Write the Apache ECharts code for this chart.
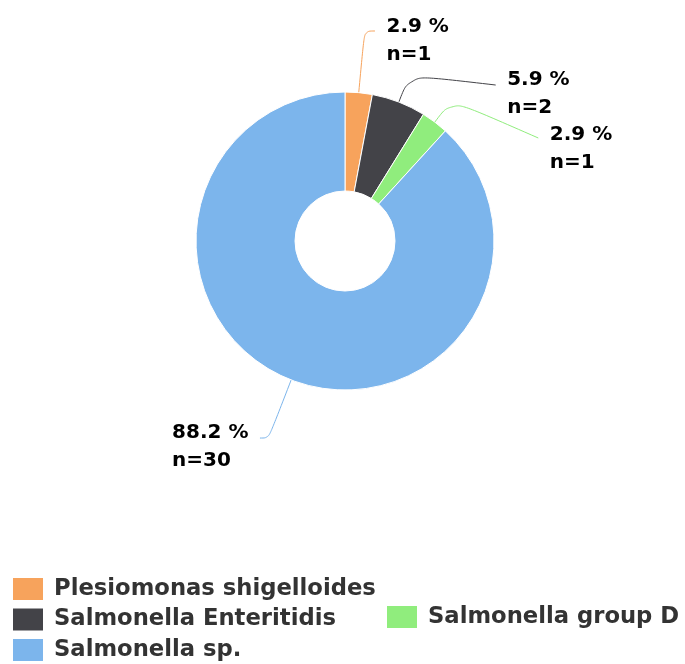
<!DOCTYPE html>
<html><head><meta charset="utf-8">
<script src="https://cdn.jsdelivr.net/npm/echarts@6/dist/echarts.min.js"></script>
<style>html,body{margin:0;padding:0;background:#fff}#c{width:685px;height:664px}</style>
</head><body><div id="c"></div>
<script>
// ---- data ----
const categories = ['Plesiomonas shigelloides', 'Salmonella Enteritidis', 'Salmonella group D', 'Salmonella sp.'];
const counts = [1, 2, 1, 30];
// ---- styles ----
const colors = ['#f7a35c', '#434348', '#90ed7d', '#7cb5ec'];
const leaderLength = [61.9, 29, 27.7, 62.3];
const leaderLength2 = [10.5, 86.4, 86.8, 8.7];
const leaderEndShift = [0, 10, 38, 0];
const labelShift = [9.5, 19, 48.5, 9];

const total = counts.reduce((a, b) => a + b, 0);
const font = "'DejaVu Sans', Verdana, sans-serif";

const pieData = categories.map((name, i) => ({
  name: name,
  value: counts[i],
  itemStyle: { color: colors[i] },
  labelLine: { length: leaderLength[i], length2: leaderLength2[i] }
}));

const legendCommon = {
  icon: 'rect',
  itemWidth: 32,
  itemHeight: 24,
  padding: 0,
  textStyle: {
    color: '#333',
    fontFamily: font,
    fontWeight: 'bold',
    fontSize: 22.7,
    padding: [0, 0, 0, 5]
  }
};

const labelFont = { color: '#000', fontFamily: font, fontWeight: 'bold', fontSize: 20, lineHeight: 28 };

const chart = echarts.init(document.getElementById('c'), null, { renderer: 'canvas' });
chart.setOption({
  animation: false,
  backgroundColor: '#fff',
  color: colors,
  legend: [
    Object.assign({}, legendCommon, {
      data: [categories[0], categories[1], categories[3]],
      orient: 'vertical', left: 11, top: 576, itemGap: 4.5
    }),
    Object.assign({}, legendCommon, {
      data: [categories[2]],
      orient: 'horizontal', left: 385, top: 604
    })
  ],
  series: [{
    type: 'pie',
    center: [345, 241],
    radius: [50, 149],
    startAngle: 90,
    clockwise: true,
    avoidLabelOverlap: false,
    itemStyle: { borderColor: '#fff', borderWidth: 1 },
    emphasis: { disabled: true },
    label: Object.assign({
      show: true,
      position: 'outside',
      alignTo: 'none',
      distanceToLabelLine: 11.5,
      textBorderWidth: 0,
      formatter: p => '{t|' + (p.value / total * 100).toFixed(1) + ' %}\n{t|n=' + p.value + '}',
      rich: { t: Object.assign({ align: 'left' }, labelFont) }
    }, labelFont),
    labelLine: { show: true, smooth: 0.4, lineStyle: { width: 1 } },
    labelLayout: function (p) {
      const i = p.dataIndex;
      const r = p.labelRect;
      let pts = null;
      if (p.labelLinePoints) {
        pts = p.labelLinePoints.map(q => [q[0], q[1]]);
        pts[pts.length - 1][1] += leaderEndShift[i];
      }
      const out = {
        x: p.align === 'right' ? r.x + r.width : r.x,
        y: r.y + r.height / 2 + labelShift[i],
        hideOverlap: false
      };
      if (pts) out.labelLinePoints = pts;
      return out;
    },
    data: pieData
  }]
});
</script></body></html>
